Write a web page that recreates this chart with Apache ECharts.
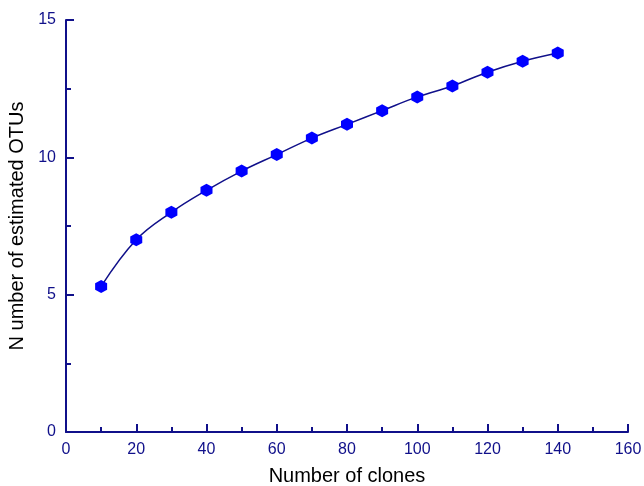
<!DOCTYPE html>
<html>
<head>
<meta charset="utf-8">
<script src="https://cdn.jsdelivr.net/npm/echarts@6/dist/echarts.min.js"></script>
<style>
  html, body { margin: 0; padding: 0; background: #fff; }
  #chart { width: 644px; height: 486px; }
</style>
</head>
<body>
<div id="chart"></div>
<script>
// clones sampled vs estimated OTUs
const clones = [10, 20, 30, 40, 50, 60, 70, 80, 90, 100, 110, 120, 130, 140];
const otus = [5.3, 7.0, 8.0, 8.8, 9.5, 10.1, 10.7, 11.2, 11.7, 12.2, 12.6, 13.1, 13.5, 13.8];

const navy = "#10108a";
const font = "Liberation Sans, Arial, sans-serif";
const hexagon = "path://M0,-1 L0.866,-0.5 L0.866,0.5 L0,1 L-0.866,0.5 L-0.866,-0.5 Z";

const chart = echarts.init(document.getElementById("chart"));
const axisCommon = {
  axisLine: { show: true, lineStyle: { color: navy, width: 2 } },
  axisTick: { show: true, inside: true, length: 8, lineStyle: { color: navy, width: 2 } },
  minorTick: { show: true, splitNumber: 2, length: 5, lineStyle: { color: navy, width: 2 } },
  splitLine: { show: false },
  axisLabel: { color: navy, fontSize: 16, fontFamily: font, margin: 10 },
  nameTextStyle: { color: "#000", fontSize: 20, fontFamily: font },
  nameLocation: "middle"
};

let option = {
  animation: false,
  backgroundColor: "#fff",
  grid: { left: 66, right: 16, top: 20, bottom: 54, containLabel: false, outerBoundsMode: "none" },
  xAxis: Object.assign({}, axisCommon, {
    type: "value",
    min: 0,
    max: 160,
    interval: 20,
    name: "Number of clones",
    nameGap: 34
  }),
  yAxis: Object.assign({}, axisCommon, {
    type: "value",
    min: 0,
    max: 15,
    interval: 5,
    name: "N umber of estimated OTUs",
    nameGap: 38
  }),
  series: [
    {
      type: "line",
      data: clones.map((c, i) => [c, otus[i]]),
      smooth: 0.4,
      symbol: hexagon,
      symbolSize: [12, 13],
      itemStyle: { color: "#0000ff", borderWidth: 0 },
      lineStyle: { color: navy, width: 1.5 }
    }
  ]
};
chart.setOption(option);
</script>
</body>
</html>
